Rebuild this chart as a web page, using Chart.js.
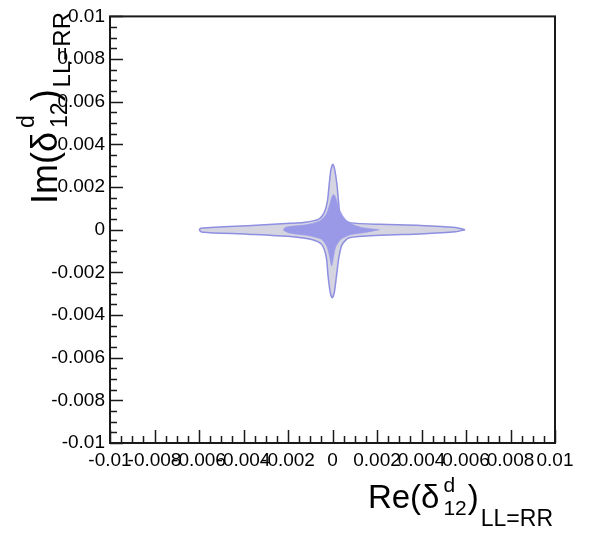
<!DOCTYPE html>
<html>
<head>
<meta charset="utf-8">
<script src="https://cdn.jsdelivr.net/npm/chart.js@4.4.1/dist/chart.umd.min.js"></script>
<style>
  html, body { margin: 0; padding: 0; background: #fff; }
</style>
</head>
<body>
<canvas id="contourChart" width="594" height="533"></canvas>
<script>
// tick values / labels (same on both axes)
const tickValues = [-0.01, -0.008, -0.006, -0.004, -0.002, 0, 0.002, 0.004, 0.006, 0.008, 0.01];
const tickLabels = ['-0.01', '-0.008', '-0.006', '-0.004', '-0.002', '0', '0.002', '0.004', '0.006', '0.008', '0.01'];

// outer contour (light band)
const outerRe = [0.00596, 0.00553, 0.00396, 0.00216, 0.00081, 0.00052, 0.00034, 0.00027, 0.0002, 0.0001, 0.00002,
  -0.00007, -0.00015, -0.00023, -0.00038, -0.00066, -0.00131, -0.00189, -0.00382, -0.00548, -0.00593, -0.00598,
  -0.00584, -0.00382, -0.00189, -0.0009, -0.00048, -0.00028, -0.0002, -0.0001, -0.00001,
  0.00008, 0.00018, 0.00029, 0.00043, 0.00075, 0.00216, 0.00396, 0.00553, 0.00596];
const outerIm = [0, 0.0001, 0.0002, 0.00025, 0.00032, 0.00047, 0.00074, 0.001326, 0.002116, 0.002814, 0.00307,
  0.002814, 0.002116, 0.001326, 0.00079, 0.00047, 0.00034, 0.0003, 0.00019, 0.0001, 0.00007, -0.00002,
  -0.00012, -0.00021, -0.00032, -0.00047, -0.0007, -0.001279, -0.002163, -0.002953, -0.003186,
  -0.002953, -0.002163, -0.001279, -0.0007, -0.00038, -0.00026, -0.0002, -0.0001, 0];

// inner contour (dark region)
const innerRe = [0.00211, 0.00126, 0.00075, 0.0005, 0.0003, 0.0002, 0.0001, 0.00004, -0.00004, -0.00014, -0.0003,
  -0.0006, -0.00121, -0.00211, -0.0022, -0.00189, -0.00108, -0.0005, -0.00025, -0.00014, -0.00004,
  0.00004, 0.00014, 0.00038, 0.00085, 0.00148, 0.00211];
const innerIm = [0, 0.00012, 0.00032, 0.0006, 0.00097, 0.001326, 0.0016, 0.00165, 0.00151, 0.00114, 0.0007,
  0.0004, 0.00023, 0.00012, -0.00002, -0.00017, -0.00028, -0.00045, -0.0008, -0.00123, -0.0017,
  -0.00133, -0.00083, -0.00045, -0.00023, -0.00013, 0];

const toPts = (xs, ys) => xs.map((x, i) => ({x: x, y: ys[i]}));
const FONT = 'Liberation Sans, Arial, sans-serif';

// draws "main(δ^d_12)_LL=RR" type title along +x, baseline at 0
function titleWidth(c, parts) {
  let w = 0;
  for (const p of parts) {
    c.font = p.size + 'px ' + FONT;
    if (p.sup !== undefined) {
      w += Math.max(c.measureText(p.sup).width, c.measureText(p.sub).width);
    } else {
      w += c.measureText(p.text).width;
    }
    w += p.gap || 0;
  }
  return w;
}
function drawParts(c, parts) {
  let x = 0;
  for (const p of parts) {
    c.font = p.size + 'px ' + FONT;
    if (p.sup !== undefined) {
      c.fillText(p.sup, x, p.supDy);
      c.fillText(p.sub, x, p.subDy);
      x += Math.max(c.measureText(p.sup).width, c.measureText(p.sub).width);
    } else {
      c.fillText(p.text, x, p.dy || 0);
      x += c.measureText(p.text).width;
    }
    x += p.gap || 0;
  }
}

const rootFrame = {
  id: 'rootFrame',
  afterDraw(chart) {
    const c = chart.ctx, a = chart.chartArea;
    const xs = chart.scales.x, ys = chart.scales.y;
    c.save();
    c.strokeStyle = '#1a1a1a';
    c.lineWidth = 2;
    c.strokeRect(a.left, a.top, a.right - a.left, a.bottom - a.top);
    c.lineWidth = 1.5;
    c.beginPath();
    for (let i = 0; i <= 40; i++) {
      const v = -0.01 + i * 0.0005;
      const len = i % 4 === 0 ? 13 : 7;
      const px = Math.round(xs.getPixelForValue(v)) + 0.5;
      c.moveTo(px, a.bottom);
      c.lineTo(px, a.bottom - len);
      const py = Math.round(ys.getPixelForValue(v)) + 0.5;
      c.moveTo(a.left, py);
      c.lineTo(a.left + len, py);
    }
    c.stroke();

    c.fillStyle = '#000';
    c.textBaseline = 'alphabetic';
    c.textAlign = 'left';
    // x title
    const xParts = [
      {text: 'Re(δ', size: 33, gap: 4},
      {sup: 'd', sub: '12', size: 21, supDy: -16, subDy: 7, gap: 1},
      {text: ')', size: 33, gap: 2},
      {text: 'LL=RR', size: 23, dy: 18}
    ];
    const xw = titleWidth(c, xParts);
    c.save();
    c.translate(553 - xw, 508);
    drawParts(c, xParts);
    c.restore();
    // y title
    const yParts = [
      {text: 'Im(δ', size: 36, gap: 4},
      {sup: 'd', sub: '12', size: 23, supDy: -23, subDy: 10, gap: 1},
      {text: ')', size: 36, gap: 2},
      {text: 'LL=RR', size: 24, dy: 13}
    ];
    const yw = titleWidth(c, yParts);
    c.save();
    c.translate(57, 12 + yw);
    c.rotate(-Math.PI / 2);
    drawParts(c, yParts);
    c.restore();
    c.restore();
  }
};

const axisCommon = {
  type: 'linear',
  min: -0.01,
  max: 0.01,
  afterBuildTicks: s => { s.ticks = tickValues.map(v => ({value: v})); },
  grid: {display: false, drawTicks: false},
  border: {display: false}
};

var ctx = document.getElementById('contourChart').getContext('2d');

var config = {
  type: 'line',
  data: {
    datasets: [{
      label: 'inner',
      data: toPts(innerRe, innerIm),
      fill: 'shape',
      backgroundColor: '#9999e8',
      borderColor: '#9999e8',
      borderWidth: 0.5,
      pointRadius: 0,
      tension: 0.25,
      order: 1
    }, {
      label: 'outer',
      data: toPts(outerRe, outerIm),
      fill: 'shape',
      backgroundColor: '#d5d5e2',
      borderColor: '#8e8ee2',
      borderWidth: 1.5,
      pointRadius: 0,
      tension: 0.25,
      order: 2
    }]
  },
  options: {
    responsive: false,
    animation: false,
    layout: {padding: {top: 13, right: 39, left: 0, bottom: 0}},
    plugins: {legend: {display: false}, tooltip: {enabled: false}},
    scales: {
      x: Object.assign({}, axisCommon, {
        afterFit: s => { s.height = 90; },
        ticks: {autoSkip: false, maxRotation: 0, padding: 6, color: '#000',
          font: {family: FONT, size: 19},
          callback: (v, i) => tickLabels[i]}
      }),
      y: Object.assign({}, axisCommon, {
        afterFit: s => { s.width = 110; },
        ticks: {autoSkip: false, padding: 5, color: '#000',
          font: {family: FONT, size: 19},
          callback: (v, i) => tickLabels[i]}
      })
    }
  },
  plugins: [rootFrame]
};

var contourChart = new Chart(ctx, config);
</script>
</body>
</html>
